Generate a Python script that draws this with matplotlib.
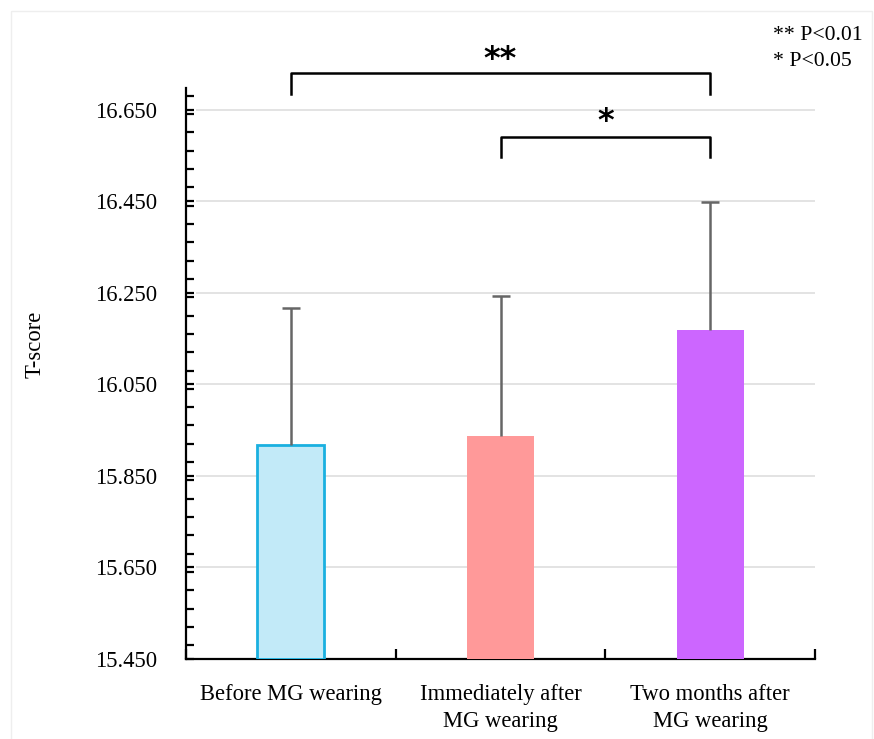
import matplotlib
matplotlib.use("Agg")
import matplotlib.pyplot as plt
from matplotlib.patches import Rectangle
from matplotlib.ticker import MultipleLocator, FixedLocator

categories = ["Before MG wearing", "Immediately after\nMG wearing", "Two months after\nMG wearing"]
means = [15.918, 15.937, 16.168]
sds = [0.299, 0.306, 0.279]
face_colors = ["#C2EAF8", "#FF9999", "#CC66FF"]
edge_colors = ["#1AB0E0", "#FF9999", "#CC66FF"]
y_ticks = [15.45, 15.65, 15.85, 16.05, 16.25, 16.45, 16.65]
y_tick_labels = ["15.450", "15.650", "15.850", "16.050", "16.250", "16.450", "16.650"]
brackets = [(0, 2, 16.683, 16.729, "**"), (1, 2, 16.546, 16.591, "*")]
sig_notes = ["** P<0.01", "* P<0.05"]

plt.rcParams['font.family'] = ['Liberation Serif', 'DejaVu Serif']

FS = 16.3
W, H = 874, 739
fig = plt.figure(figsize=(W / 100, H / 100), dpi=100)
ax = fig.add_axes([186 / W, 80 / H, (815 - 186) / W, (659 - 88) / H])

x = list(range(len(categories)))
for i in x:
    ax.bar(i, means[i] - y_ticks[0], bottom=y_ticks[0], width=0.32,
           color=face_colors[i], edgecolor=edge_colors[i],
           linewidth=2.0 if i == 0 else 0, zorder=3)
    top = means[i] + sds[i]
    ax.vlines(i, means[i], top, colors='#666666', linewidth=1.8, zorder=4)
    ax.plot([i], [top], marker='_', markersize=13, markeredgewidth=1.8,
            color='#666666', zorder=4)

ax.set_xlim(-0.5, 2.5)
ax.set_ylim(15.45, 16.697)

ax.hlines(y_ticks[1:], -0.452, 2.5, colors='#e3e3e3', linewidth=1.4, zorder=1)

for s in ['top', 'right']:
    ax.spines[s].set_visible(False)
for s in ['left', 'bottom']:
    ax.spines[s].set_linewidth(1.6)
    ax.spines[s].set_color('black')

ax.set_yticks(y_ticks)
ax.set_yticklabels(y_tick_labels, fontsize=FS)
ax.yaxis.set_minor_locator(MultipleLocator(0.04))
ax.tick_params(axis='y', which='both', direction='in', length=6, width=1.6, pad=21)

ax.set_xticks(x)
ax.set_xticklabels(categories, fontsize=FS, linespacing=1.35)
ax.xaxis.set_minor_locator(FixedLocator([-0.5, 0.5, 1.5, 2.5]))
ax.tick_params(axis='x', which='major', length=0, pad=18)
ax.tick_params(axis='x', which='minor', direction='in', length=7, width=1.6)

fig.text(35 / W, 1 - 344 / H, "T-score", rotation=90, ha='center', va='center', fontsize=FS)

for (a, b, ylo, yhi, label) in brackets:
    ax.plot([a, a, b, b], [ylo, yhi, yhi, ylo], color='black', linewidth=1.8,
            clip_on=False, zorder=5)

fig.text(500 / W, 1 - 60 / H, brackets[0][4], ha='center', va='center',
         fontsize=23, fontweight='bold', family='DejaVu Sans')
fig.text(605.5 / W, 1 - 121 / H, brackets[1][4], ha='center', va='center',
         fontsize=23, fontweight='bold', family='DejaVu Sans')

fig.text(773 / W, 1 - 35 / H, sig_notes[0], ha='left', va='center', fontsize=15.7)
fig.text(773 / W, 1 - 62 / H, sig_notes[1], ha='left', va='center', fontsize=15.7)

fig.add_artist(Rectangle((11 / W, -0.01), (872 - 11) / W, 1 - 11 / H + 0.01,
                         transform=fig.transFigure, fill=False,
                         edgecolor='#eeeeee', linewidth=1.0))

fig.savefig("out.png", dpi=100)
